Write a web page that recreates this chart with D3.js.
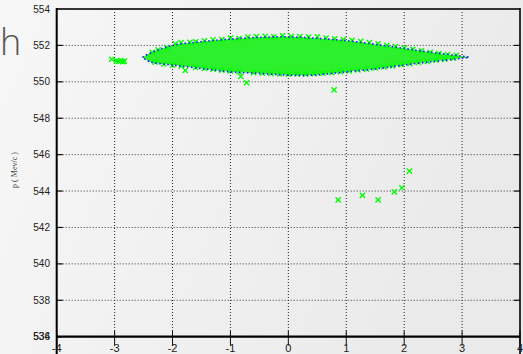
<!DOCTYPE html>
<html><head><meta charset="utf-8">
<script src="https://cdn.jsdelivr.net/npm/d3@7"></script>
<style>html,body{margin:0;padding:0;overflow:hidden;}svg{display:block;}</style>
</head><body>
<script>
// ---- data ----
const xTicks = [-4,-3,-2,-1,0,1,2,3,4];
const yTicks = [554,552,550,548,546,544,542,540,538,536];
const yExtraLabel = ["534"];
const yTitle = "p ( Mev/c )";
const titleFragment = "h";

// envelope contour (blue dotted)
const contourX   = [-2.52,-2.39,-2.0,-1.52,-1.0,-0.48,0.0,0.43,1.01,1.59,1.99,2.46,2.98,3.12];
const contourTop = [551.35,551.57,552.0,552.2,552.35,552.45,552.47,552.4,552.26,552.02,551.84,551.62,551.42,551.35];
const contourBot = [551.35,551.1,550.92,550.74,550.55,550.46,550.37,550.37,550.55,550.74,550.92,551.1,551.29,551.35];

// dense core of events (edge markers) and isolated events
const edgeTopX = [-2.35,-2.25,-2.1,-1.95,-1.85,-1.7,-1.6,-1.45,-1.3,-1.15,-1.0,-0.85,-0.7,-0.55,-0.4,-0.25,-0.1,0.05,0.2,0.35,0.5,0.65,0.8,0.95,1.1,1.25,1.4,1.55,1.7,1.85,2.0,2.15,2.3,2.45,2.6,2.75,2.9];
const edgeTopY = [551.62,551.75,551.88,552.08,552.15,552.17,552.2,552.25,552.3,552.32,552.4,552.38,552.45,552.48,552.5,552.47,552.52,552.5,552.48,552.45,552.47,552.4,552.36,552.32,552.28,552.22,552.15,552.08,552.0,551.93,551.85,551.78,551.7,551.62,551.55,551.5,551.45];
const edgeBotX = [-2.3,-2.15,-2.0,-1.85,-1.6,-1.45,-1.3,-1.15,-1.0,-0.85,-0.6,-0.45,-0.3,-0.15,0.0,0.15,0.3,0.45,0.6,0.75,0.9,1.05,1.2,1.35,1.5,1.65,1.8,1.95,2.1,2.25,2.4,2.55,2.7,2.85];
const edgeBotY = [551.08,550.98,550.92,550.86,550.79,550.74,550.7,550.64,550.6,550.56,550.5,550.47,550.45,550.43,550.42,550.43,550.42,550.45,550.47,550.5,550.55,550.6,550.65,550.7,550.76,550.82,550.88,550.94,551.0,551.06,551.12,551.19,551.24,551.3];
const outX = [-3.05,-2.97,-2.93,-2.89,-2.86,-2.83,-1.78,-0.82,-0.72,0.79,0.86,1.28,1.55,1.83,1.96,2.09];
const outY = [551.24,551.15,551.12,551.16,551.11,551.14,550.63,550.3,549.95,549.56,543.52,543.76,543.52,543.96,544.18,545.09];

// ---- drawing ----
const W = 523, H = 354;
const svg = d3.select("body").append("svg").attr("width", W).attr("height", H);
const defs = svg.append("defs");
const g = defs.append("linearGradient").attr("id","bg").attr("x1","0").attr("x2","1").attr("y1","0").attr("y2","0.3");
g.append("stop").attr("offset","0").attr("stop-color","#f7f7f7");
g.append("stop").attr("offset","1").attr("stop-color","#eaeaea");
svg.append("rect").attr("width",W).attr("height",H).attr("fill","url(#bg)");

const x = d3.scaleLinear().domain([-4,4]).range([56.7,520]);
const y = d3.scaleLinear().domain([536,554]).range([336.7,9]);

// grid
svg.append("g").selectAll("line").data(xTicks.slice(1,-1)).join("line")
  .attr("x1",d=>x(d)).attr("x2",d=>x(d)).attr("y1",y(554)).attr("y2",y(536))
  .attr("stroke","#222").attr("stroke-width",1).attr("stroke-dasharray","1,2");
svg.append("g").selectAll("line").data(yTicks.slice(1,-1)).join("line")
  .attr("x1",x(-4)).attr("x2",x(4)).attr("y1",d=>y(d)).attr("y2",d=>y(d))
  .attr("stroke","#333").attr("stroke-width",1).attr("stroke-dasharray","1,2");

// ticks
svg.append("g").selectAll("line").data(yTicks).join("line")
  .attr("x1",x(-4)).attr("x2",x(-4)+6).attr("y1",d=>y(d)).attr("y2",d=>y(d))
  .attr("stroke","#111").attr("stroke-width",1.2);
svg.append("g").selectAll("line").data(yTicks).join("line")
  .attr("x1",x(4)).attr("x2",x(4)-6).attr("y1",d=>y(d)).attr("y2",d=>y(d))
  .attr("stroke","#111").attr("stroke-width",1.2);
svg.append("g").selectAll("line").data(xTicks).join("line")
  .attr("x1",d=>x(d)).attr("x2",d=>x(d)).attr("y1",y(536)-6).attr("y2",y(536)+9)
  .attr("stroke","#111").attr("stroke-width",1);

// core region
const topPts = contourX.map((v,i)=>[v,contourTop[i]]);
const botPts = contourX.map((v,i)=>[v,contourBot[i]]).reverse();
const closed = topPts.concat(botPts.slice(1));
const lineGen = d3.line().x(d=>x(d[0])).y(d=>y(d[1])).curve(d3.curveCatmullRomClosed);
svg.append("path").attr("d", lineGen(closed)).attr("fill","#2bf02b");

// markers
const green = "#00ff00";
function cross(sel, xs, ys){
  const pts = xs.map((v,i)=>[v,ys[i]]);
  sel.selectAll("path").data(pts).join("path")
    .attr("d",d=>{const cx=x(d[0]), cy=y(d[1]), r=2.6;
      return `M${cx-r},${cy-r}L${cx+r},${cy+r}M${cx-r},${cy+r}L${cx+r},${cy-r}`;})
    .attr("stroke",green).attr("stroke-width",1.4).attr("fill","none");
}
cross(svg.append("g"), edgeTopX, edgeTopY);
cross(svg.append("g"), edgeBotX, edgeBotY);
cross(svg.append("g"), outX, outY);

// contour
svg.append("path").attr("d", lineGen(closed)).attr("fill","none")
  .attr("stroke","#1a1aff").attr("stroke-width",1.6).attr("stroke-dasharray","1.5,2.5");

// frame
svg.append("line").attr("x1",x(-4)).attr("x2",x(4)).attr("y1",y(554)).attr("y2",y(554)).attr("stroke","#333").attr("stroke-width",2);
svg.append("line").attr("x1",x(-4)).attr("x2",x(4)).attr("y1",y(536)).attr("y2",y(536)).attr("stroke","#000").attr("stroke-width",2.2);
svg.append("line").attr("x1",x(-4)).attr("x2",x(-4)).attr("y1",y(554)-1).attr("y2",H).attr("stroke","#000").attr("stroke-width",2);
svg.append("line").attr("x1",x(4)).attr("x2",x(4)).attr("y1",y(554)-1).attr("y2",H).attr("stroke","#000").attr("stroke-width",1.6);

// labels
svg.append("g").selectAll("text").data(yTicks).join("text")
  .attr("x",50).attr("y",d=>y(d)).attr("dy","0.35em").attr("text-anchor","end")
  .attr("font-family","Liberation Sans, Arial, sans-serif").attr("font-size",10).attr("fill","#222")
  .text(d=>d);
svg.append("g").selectAll("text").data(yExtraLabel).join("text")
  .attr("x",50).attr("y",y(536)).attr("dy","0.35em").attr("text-anchor","end")
  .attr("font-family","Liberation Sans, Arial, sans-serif").attr("font-size",10).attr("fill","#222")
  .text(d=>d);
svg.append("g").selectAll("text").data(xTicks).join("text")
  .attr("x",d=>x(d)).attr("y",352).attr("text-anchor","middle")
  .attr("font-family","Liberation Sans, Arial, sans-serif").attr("font-size",11).attr("fill","#222")
  .text(d=>d);
svg.append("text").attr("transform","translate(17,170) rotate(-90)").attr("text-anchor","middle")
  .attr("font-family","Liberation Serif, Times New Roman, serif").attr("font-size",8).attr("fill","#444")
  .text(yTitle);
svg.append("text").attr("x",0).attr("y",55).attr("font-family","'Open Sans', Lato, sans-serif")
  .attr("font-size",36).attr("font-weight",300).attr("fill","#555").text(titleFragment);
</script>
</body></html>
